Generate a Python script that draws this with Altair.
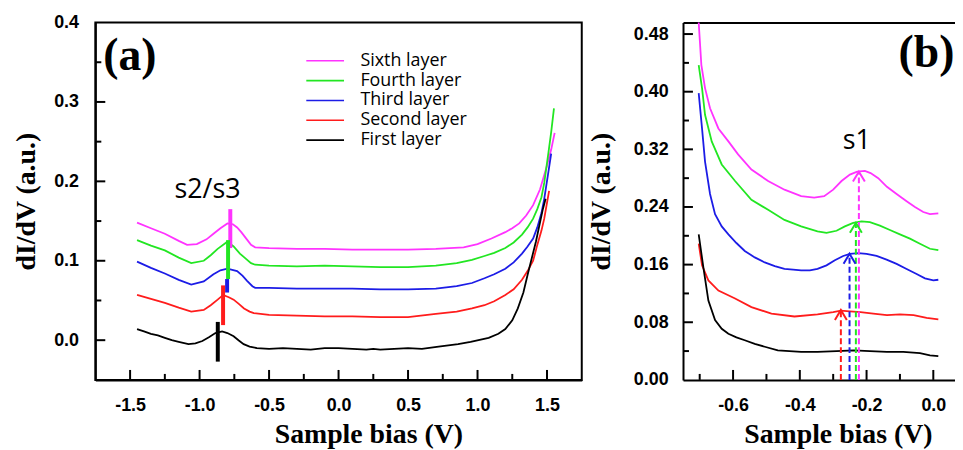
import altair as alt
import pandas as pd

# ---------------- data ----------------
LAYERS = ["Sixth layer", "Fourth layer", "Third layer", "Second layer", "First layer"]
COLORS = ["#ff33ff", "#22e622", "#1c1ce6", "#ff1c1c", "#000000"]

# Panel (a): dI/dV vs sample bias
A_SIXTH_X = [-1.45, -1.35, -1.25, -1.15, -1.09, -1.02, -0.95, -0.90, -0.85, -0.80, -0.76, -0.73, -0.70, -0.66, -0.63, -0.60, -0.50, -0.30, -0.10, 0.10, 0.30, 0.50, 0.70, 0.80, 0.90, 1.00, 1.10, 1.20, 1.25, 1.30, 1.35, 1.40, 1.45, 1.50, 1.53, 1.555]
A_SIXTH_Y = [0.148, 0.141, 0.134, 0.125, 0.120, 0.121, 0.127, 0.134, 0.141, 0.147, 0.146, 0.142, 0.136, 0.127, 0.120, 0.117, 0.116, 0.115, 0.115, 0.114, 0.114, 0.114, 0.115, 0.116, 0.117, 0.121, 0.128, 0.136, 0.141, 0.147, 0.157, 0.170, 0.190, 0.220, 0.240, 0.261]

A_FOURTH_X = [-1.45, -1.35, -1.25, -1.15, -1.06, -0.97, -0.92, -0.87, -0.80, -0.755, -0.71, -0.67, -0.63, -0.60, -0.50, -0.30, -0.10, 0.10, 0.30, 0.50, 0.70, 0.85, 0.96, 1.05, 1.12, 1.20, 1.26, 1.32, 1.36, 1.40, 1.43, 1.46, 1.48, 1.51, 1.53, 1.55]
A_FOURTH_Y = [0.126, 0.119, 0.113, 0.104, 0.097, 0.100, 0.107, 0.115, 0.124, 0.118, 0.109, 0.103, 0.097, 0.095, 0.094, 0.093, 0.094, 0.093, 0.092, 0.092, 0.094, 0.097, 0.101, 0.106, 0.110, 0.116, 0.123, 0.133, 0.142, 0.153, 0.165, 0.180, 0.198, 0.236, 0.262, 0.292]

A_THIRD_X = [-1.45, -1.35, -1.25, -1.15, -1.06, -0.97, -0.90, -0.85, -0.80, -0.73, -0.69, -0.66, -0.62, -0.60, -0.50, -0.30, -0.10, 0.10, 0.30, 0.50, 0.70, 0.85, 0.96, 1.05, 1.12, 1.20, 1.26, 1.32, 1.36, 1.40, 1.43, 1.46, 1.48, 1.51, 1.53]
A_THIRD_Y = [0.099, 0.091, 0.084, 0.076, 0.070, 0.074, 0.083, 0.088, 0.090, 0.087, 0.081, 0.075, 0.068, 0.066, 0.066, 0.065, 0.065, 0.065, 0.064, 0.064, 0.065, 0.068, 0.072, 0.078, 0.083, 0.090, 0.098, 0.109, 0.118, 0.128, 0.142, 0.160, 0.178, 0.212, 0.235]

A_SECOND_X = [-1.45, -1.35, -1.25, -1.15, -1.06, -0.97, -0.92, -0.87, -0.83, -0.79, -0.755, -0.72, -0.68, -0.64, -0.61, -0.50, -0.30, -0.10, 0.10, 0.30, 0.50, 0.70, 0.85, 0.96, 1.05, 1.12, 1.20, 1.26, 1.32, 1.36, 1.40, 1.43, 1.46, 1.48, 1.515]
A_SECOND_Y = [0.057, 0.052, 0.047, 0.041, 0.036, 0.038, 0.044, 0.051, 0.057, 0.054, 0.051, 0.046, 0.040, 0.036, 0.034, 0.032, 0.031, 0.030, 0.030, 0.029, 0.029, 0.033, 0.036, 0.040, 0.044, 0.049, 0.057, 0.064, 0.076, 0.087, 0.100, 0.120, 0.138, 0.153, 0.188]

A_FIRST_X = [-1.45, -1.40, -1.35, -1.30, -1.25, -1.20, -1.15, -1.08, -1.03, -0.98, -0.93, -0.886, -0.838, -0.80, -0.755, -0.72, -0.683, -0.64, -0.588, -0.50, -0.40, -0.30, -0.20, -0.10, 0.00, 0.10, 0.20, 0.25, 0.30, 0.40, 0.50, 0.60, 0.72, 0.86, 0.95, 1.08, 1.15, 1.20, 1.25, 1.29, 1.33, 1.36, 1.42, 1.47, 1.49]
A_FIRST_Y = [0.014, 0.011, 0.008, 0.006, 0.003, 0.000, -0.002, -0.005, -0.004, -0.001, 0.004, 0.009, 0.011, 0.009, 0.005, 0.000, -0.005, -0.008, -0.010, -0.011, -0.010, -0.011, -0.012, -0.010, -0.010, -0.011, -0.012, -0.011, -0.012, -0.011, -0.010, -0.011, -0.008, -0.005, -0.002, 0.003, 0.008, 0.014, 0.025, 0.040, 0.060, 0.082, 0.124, 0.165, 0.178]

# s2/s3 peak markers in (a): bias, top, bottom
A_MARK_X = [-0.779, -0.795, -0.802, -0.831, -0.869]
A_MARK_TOP = [0.165, 0.126, 0.077, 0.069, 0.023]
A_MARK_BOTTOM = [0.116, 0.077, 0.060, 0.019, -0.027]

# Panel (b)
B_SIXTH_X = [-0.703, -0.695, -0.684, -0.669, -0.644, -0.614, -0.585, -0.545, -0.495, -0.446, -0.396, -0.357, -0.327, -0.300, -0.275, -0.250, -0.228, -0.205, -0.188, -0.165, -0.139, -0.110, -0.080, -0.055, -0.030, -0.010, 0.015]
B_SIXTH_Y = [0.496, 0.437, 0.405, 0.377, 0.349, 0.331, 0.313, 0.292, 0.276, 0.264, 0.255, 0.253, 0.255, 0.264, 0.276, 0.285, 0.289, 0.290, 0.287, 0.280, 0.268, 0.258, 0.248, 0.240, 0.233, 0.230, 0.231]

B_FOURTH_X = [-0.703, -0.693, -0.684, -0.664, -0.634, -0.594, -0.545, -0.495, -0.446, -0.396, -0.347, -0.320, -0.290, -0.265, -0.240, -0.215, -0.190, -0.160, -0.130, -0.100, -0.070, -0.040, -0.010, 0.015]
B_FOURTH_Y = [0.437, 0.405, 0.368, 0.331, 0.299, 0.276, 0.250, 0.236, 0.222, 0.213, 0.206, 0.204, 0.207, 0.213, 0.218, 0.220, 0.219, 0.214, 0.208, 0.202, 0.196, 0.189, 0.182, 0.180]

B_THIRD_X = [-0.703, -0.693, -0.684, -0.669, -0.654, -0.634, -0.614, -0.590, -0.565, -0.535, -0.505, -0.475, -0.446, -0.420, -0.396, -0.370, -0.347, -0.320, -0.295, -0.270, -0.250, -0.225, -0.200, -0.170, -0.140, -0.110, -0.080, -0.050, -0.025, 0.000, 0.015]
B_THIRD_Y = [0.398, 0.349, 0.303, 0.258, 0.230, 0.213, 0.202, 0.190, 0.179, 0.170, 0.163, 0.158, 0.154, 0.153, 0.152, 0.152, 0.154, 0.159, 0.166, 0.172, 0.175, 0.176, 0.175, 0.172, 0.167, 0.161, 0.154, 0.147, 0.141, 0.138, 0.139]

B_SECOND_X = [-0.703, -0.693, -0.674, -0.644, -0.594, -0.545, -0.485, -0.416, -0.347, -0.300, -0.277, -0.250, -0.218, -0.180, -0.139, -0.100, -0.059, -0.020, 0.015]
B_SECOND_Y = [0.189, 0.159, 0.138, 0.124, 0.113, 0.101, 0.092, 0.088, 0.091, 0.094, 0.096, 0.095, 0.094, 0.092, 0.090, 0.091, 0.090, 0.086, 0.084]

B_FIRST_X = [-0.703, -0.689, -0.674, -0.654, -0.634, -0.614, -0.590, -0.565, -0.535, -0.505, -0.466, -0.396, -0.347, -0.290, -0.238, -0.190, -0.139, -0.090, -0.040, -0.010, 0.015]
B_FIRST_Y = [0.202, 0.156, 0.110, 0.083, 0.071, 0.064, 0.059, 0.055, 0.050, 0.046, 0.041, 0.039, 0.039, 0.040, 0.041, 0.040, 0.039, 0.039, 0.037, 0.034, 0.033]

# s1 arrows in (b): layer, bias, peak value
B_ARROW_LAYERS = ["Sixth layer", "Fourth layer", "Third layer", "Second layer"]
B_ARROW_X = [-0.223, -0.232, -0.251, -0.277]
B_ARROW_TOP = [0.289, 0.218, 0.175, 0.097]

# axis ticks
A_X_MAJOR = [-1.5, -1.0, -0.5, 0.0, 0.5, 1.0, 1.5]
A_X_MINOR = [-1.25, -0.75, -0.25, 0.25, 0.75, 1.25]
A_Y_MAJOR = [0.0, 0.1, 0.2, 0.3, 0.4]
A_Y_MINOR = [0.05, 0.15, 0.25, 0.35]
B_X_MAJOR = [-0.6, -0.4, -0.2, 0.0]
B_X_MINOR = [-0.7, -0.5, -0.3, -0.1]
B_Y_MAJOR = [0.0, 0.08, 0.16, 0.24, 0.32, 0.40, 0.48]
B_Y_MINOR = [0.04, 0.12, 0.20, 0.28, 0.36, 0.44]

# annotations
A_LABEL = ["(a)"]
A_LABEL_X = [-1.693]
A_LABEL_Y = [0.340]
A_NOTE = ["s2/s3"]
A_NOTE_X = [-0.943]
A_NOTE_Y = [0.179]
B_LABEL = ["(b)"]
B_LABEL_X = [-0.104]
B_LABEL_Y = [0.434]
B_NOTE = ["s1"]
B_NOTE_X = [-0.229]
B_NOTE_Y = [0.321]

# ---------------- styling ----------------
TICK_FONT = "Liberation Sans"
TITLE_FONT = "Liberation Serif"
NOTE_FONT = "Open Sans"
COLOR_OF = dict(zip(LAYERS, COLORS))

A_W, A_H = 490, 360
B_W, B_H = 274, 360
A_XDOM, A_YDOM = [-1.75, 1.75], [-0.05, 0.4]
B_XDOM, B_YDOM = [-0.75, 0.065], [0.0, 0.496]
MAJOR_LEN, MINOR_LEN = 10, 6  # tick lengths in pixels


def curves(pairs):
    rows = []
    for name, xs, ys in pairs:
        for i, (xv, yv) in enumerate(zip(xs, ys)):
            rows.append({"layer": name, "bias": xv, "didv": yv, "i": i})
    return pd.DataFrame(rows)


df_a = curves([
    ("Sixth layer", A_SIXTH_X, A_SIXTH_Y),
    ("Fourth layer", A_FOURTH_X, A_FOURTH_Y),
    ("Third layer", A_THIRD_X, A_THIRD_Y),
    ("Second layer", A_SECOND_X, A_SECOND_Y),
    ("First layer", A_FIRST_X, A_FIRST_Y),
])
df_b = curves([
    ("Sixth layer", B_SIXTH_X, B_SIXTH_Y),
    ("Fourth layer", B_FOURTH_X, B_FOURTH_Y),
    ("Third layer", B_THIRD_X, B_THIRD_Y),
    ("Second layer", B_SECOND_X, B_SECOND_Y),
    ("First layer", B_FIRST_X, B_FIRST_Y),
])
df_marks = pd.DataFrame({"layer": LAYERS, "bias": A_MARK_X, "top": A_MARK_TOP, "bottom": A_MARK_BOTTOM})
df_marks["col"] = df_marks["layer"].map(COLOR_OF)
df_arrows = pd.DataFrame({"layer": B_ARROW_LAYERS, "bias": B_ARROW_X, "top": B_ARROW_TOP})
df_arrows["base"] = 0.0
df_arrows["col"] = df_arrows["layer"].map(COLOR_OF)


def text_df(t, xs, ys):
    return pd.DataFrame({"t": t, "bias": xs, "didv": ys})


def xtick_df(majors, minors, ydom, h):
    # vertical inward ticks along the bottom edge
    rows = []
    for vals, length in ((majors, MAJOR_LEN), (minors, MINOR_LEN)):
        for v in vals:
            rows.append({"bias": v, "top": ydom[0] + length * (ydom[1] - ydom[0]) / h,
                         "bottom": ydom[0], "col": "black"})
    return pd.DataFrame(rows)


def ytick_df(majors, minors, xdom, w):
    # horizontal inward ticks along the left edge
    rows = []
    for vals, length in ((majors, MAJOR_LEN), (minors, MINOR_LEN)):
        for v in vals:
            rows.append({"didv": v, "left": xdom[0], "right": xdom[0] + length * (xdom[1] - xdom[0]) / w,
                         "col": "black"})
    return pd.DataFrame(rows)


MINUS_FIX = "replace(format(datum.value, '{f}'), '\u2212', '-')"


def label_axis_x(values, fmt, title_x):
    return alt.Axis(values=values, labelExpr=MINUS_FIX.format(f=fmt), ticks=False, tickSize=0,
                    labelPadding=17, labelFont=TICK_FONT, labelFontWeight="bold", labelFontSize=18,
                    labelColor="black", labelFlush=False, labelOverlap=False,
                    domainColor="black", domainWidth=2, grid=False,
                    title="Sample bias (V)", titleFont=TITLE_FONT, titleFontSize=28, titleFontWeight="bold",
                    titleColor="black", titleX=title_x, titleY=63, titleAlign="center",
                    titleAnchor="start", titleBaseline="alphabetic")


def label_axis_y(values, fmt, title_x, pad):
    return alt.Axis(values=values, labelExpr=MINUS_FIX.format(f=fmt), ticks=False, tickSize=0,
                    labelPadding=pad, labelFont=TICK_FONT, labelFontWeight="bold", labelFontSize=18,
                    labelColor="black", labelFlush=False, labelOverlap=False,
                    domainColor="black", domainWidth=2, grid=False,
                    title="dI/dV (a.u.)", titleFont=TITLE_FONT, titleFontSize=28, titleFontWeight="bold",
                    titleColor="black", titleX=title_x, titleY=180, titleAngle=270, titleAlign="center",
                    titleBaseline="middle")


def x_tick_layer(df, xs, ys):
    return alt.Chart(df).mark_rule(strokeWidth=2).encode(
        x=alt.X("bias:Q", scale=xs, axis=None),
        y=alt.Y("top:Q", scale=ys, axis=None),
        y2="bottom:Q",
        color=alt.Color("col:N", scale=None),
    )


def y_tick_layer(df, xs, ys):
    return alt.Chart(df).mark_rule(strokeWidth=2).encode(
        y=alt.Y("didv:Q", scale=ys, axis=None),
        x=alt.X("left:Q", scale=xs, axis=None),
        x2="right:Q",
        color=alt.Color("col:N", scale=None),
    )


def text_layer(df, xs, ys, font, size, weight, align):
    return alt.Chart(df).mark_text(font=font, fontSize=size, fontWeight=weight, align=align,
                                   baseline="alphabetic", color="black").encode(
        x=alt.X("bias:Q", scale=xs, axis=None), y=alt.Y("didv:Q", scale=ys, axis=None), text="t:N")


# ---------------- panel (a) ----------------
ax_scale = alt.Scale(domain=A_XDOM, nice=False, zero=False)
ay_scale = alt.Scale(domain=A_YDOM, nice=False, zero=False)
color_scale = alt.Scale(domain=LAYERS, range=COLORS)

a_lines = alt.Chart(df_a).mark_line(strokeWidth=1.8).encode(
    x=alt.X("bias:Q", scale=ax_scale, axis=label_axis_x(A_X_MAJOR, ".1f", 275)),
    y=alt.Y("didv:Q", scale=ay_scale, axis=label_axis_y(A_Y_MAJOR, ".1f", -69, 17)),
    color=alt.Color("layer:N", scale=color_scale,
                    legend=alt.Legend(orient="none", legendX=221, legendY=28, title=None,
                                      symbolType="M-2,0L2,0", symbolSize=361, symbolStrokeWidth=1.6,
                                      labelFont=NOTE_FONT, labelFontSize=18, labelColor="black",
                                      labelOffset=25, rowPadding=0, padding=0)),
    order="i:Q",
)
a_marks = alt.Chart(df_marks).mark_rule(strokeWidth=4).encode(
    x=alt.X("bias:Q", scale=ax_scale, axis=None),
    y=alt.Y("top:Q", scale=ay_scale, axis=None),
    y2="bottom:Q",
    color=alt.Color("col:N", scale=None),
)
a_label = text_layer(text_df(A_LABEL, A_LABEL_X, A_LABEL_Y), ax_scale, ay_scale, TITLE_FONT, 46, "bold", "left")
a_note = text_layer(text_df(A_NOTE, A_NOTE_X, A_NOTE_Y), ax_scale, ay_scale, NOTE_FONT, 27, "normal", "center")

panel_a = alt.layer(
    a_lines,
    x_tick_layer(xtick_df(A_X_MAJOR, A_X_MINOR, A_YDOM, A_H), ax_scale, ay_scale),
    y_tick_layer(ytick_df(A_Y_MAJOR[:-1], A_Y_MINOR, A_XDOM, A_W), ax_scale, ay_scale),
    a_marks, a_label, a_note,
).resolve_axis(x="independent", y="independent").properties(width=A_W, height=A_H)

# ---------------- panel (b) ----------------
bx_scale = alt.Scale(domain=B_XDOM, nice=False, zero=False)
by_scale = alt.Scale(domain=B_YDOM, nice=False, zero=False)

b_lines = alt.Chart(df_b).mark_line(strokeWidth=1.8).encode(
    x=alt.X("bias:Q", scale=bx_scale, axis=label_axis_x(B_X_MAJOR, ".1f", 156)),
    y=alt.Y("didv:Q", scale=by_scale, axis=label_axis_y(B_Y_MAJOR, ".2f", -82, 15)),
    color=alt.Color("layer:N", scale=color_scale, legend=None),
    order="i:Q",
)
b_top = alt.Chart(df_b).mark_line(strokeOpacity=0).encode(
    x=alt.X("bias:Q", scale=bx_scale,
            axis=alt.Axis(orient="top", labels=False, ticks=False, grid=False, domain=True,
                          domainColor="black", domainWidth=2, title=None)),
    y=alt.Y("didv:Q", scale=by_scale, axis=None),
    detail="layer:N",
)
b_dash = alt.Chart(df_arrows).mark_rule(strokeWidth=2, strokeDash=[6, 3]).encode(
    x=alt.X("bias:Q", scale=bx_scale, axis=None),
    y=alt.Y("base:Q", scale=by_scale, axis=None),
    y2="top:Q",
    color=alt.Color("col:N", scale=None),
)
b_heads = alt.Chart(df_arrows).mark_point(shape="M-0.6,1L0,0L0.6,1", size=400, filled=False,
                                          strokeWidth=2, opacity=1).encode(
    x=alt.X("bias:Q", scale=bx_scale, axis=None),
    y=alt.Y("top:Q", scale=by_scale, axis=None),
    color=alt.Color("col:N", scale=None),
)
b_label = text_layer(text_df(B_LABEL, B_LABEL_X, B_LABEL_Y), bx_scale, by_scale, TITLE_FONT, 46, "bold", "left")
b_note = text_layer(text_df(B_NOTE, B_NOTE_X, B_NOTE_Y), bx_scale, by_scale, NOTE_FONT, 27, "normal", "center")

panel_b = alt.layer(
    b_lines, b_top,
    x_tick_layer(xtick_df(B_X_MAJOR, B_X_MINOR, B_YDOM, B_H), bx_scale, by_scale),
    y_tick_layer(ytick_df(B_Y_MAJOR[1:], B_Y_MINOR, B_XDOM, B_W), bx_scale, by_scale),
    b_dash, b_heads, b_label, b_note,
).resolve_axis(x="independent", y="independent").properties(
    width=B_W, height=B_H, view=alt.ViewBackground(strokeOpacity=0))

chart = alt.hconcat(panel_a, panel_b, spacing=5).resolve_scale(color="independent").resolve_legend(
    color="independent").properties(
    padding={"left": 4, "top": 3, "right": 0, "bottom": 0}, background="white"
).configure_view(stroke="black", strokeWidth=2)

chart.save("out.html", embed_options={"renderer": "svg", "actions": False})
